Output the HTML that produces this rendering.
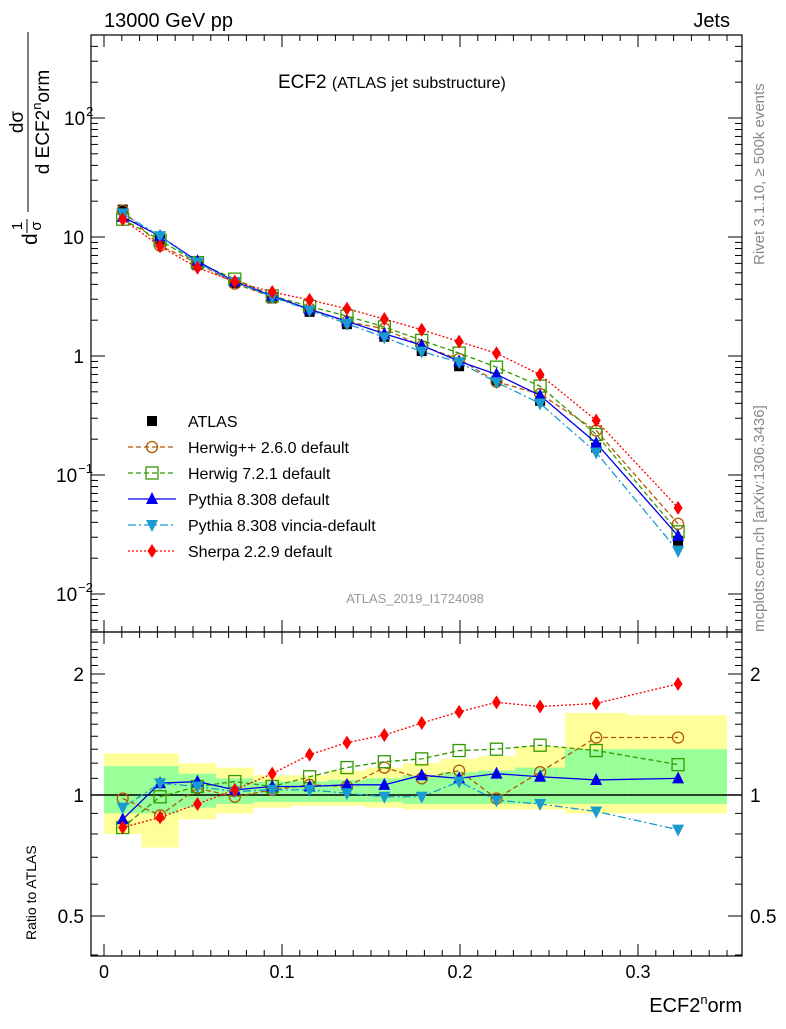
<!DOCTYPE html>
<html><head><meta charset="utf-8"><style>
body{margin:0;background:#fff}
svg text{font-family:"Liberation Sans",sans-serif}
</style></head><body>
<svg id="chart" width="786" height="1024" viewBox="0 0 786 1024" xmlns="http://www.w3.org/2000/svg">
<g id="bands"></g>
<g id="frames"></g>
<g id="series"></g>
<text x="104" y="27" font-size="20">13000 GeV pp</text>
<text x="730" y="27" font-size="20" text-anchor="end">Jets</text>
<text x="278" y="88" font-size="19">ECF2 <tspan font-size="16">(ATLAS jet substructure)</tspan></text>
<text x="415" y="603" font-size="13" fill="#999" text-anchor="middle">ATLAS_2019_I1724098</text>
<text transform="translate(764,265) rotate(-90)" font-size="15" fill="#888">Rivet 3.1.10, ≥ 500k events</text>
<text transform="translate(764,632) rotate(-90)" font-size="15" fill="#888">mcplots.cern.ch [arXiv:1306.3436]</text>
<g transform="rotate(-90)">
<text x="-245" y="37" font-size="21">d</text>
<text x="-226" y="22" font-size="15" text-anchor="middle">1</text>
<line x1="-233" x2="-219" y1="27" y2="27" stroke="#000" stroke-width="1"/>
<text x="-226" y="41" font-size="15" text-anchor="middle">σ</text>
<text x="-122" y="23" font-size="19" text-anchor="middle">dσ</text>
<line x1="-212" x2="-32" y1="28" y2="28" stroke="#000" stroke-width="1"/>
<text x="-122" y="49" font-size="19" text-anchor="middle">d ECF2<tspan font-size="13" dy="-8">n</tspan><tspan dy="8">orm</tspan></text>
</g>
<text transform="translate(36,940) rotate(-90)" font-size="14">Ratio to ATLAS</text>
<text x="742" y="1012" font-size="20" text-anchor="end">ECF2<tspan font-size="13" dy="-8">n</tspan><tspan dy="8">orm</tspan></text>
<g id="legend"></g>
</svg>
<script>
const edges=[0,0.021,0.042,0.063,0.084,0.105,0.126,0.147,0.168,0.189,0.21,0.231,0.259,0.294,0.35];
const centers=[0.0105,0.0315,0.0525,0.0735,0.0945,0.1155,0.1365,0.1575,0.1785,0.1995,0.2205,0.245,0.2765,0.3225];
const atlas=[17,9.5,5.8,4.1,3.05,2.35,1.85,1.45,1.1,0.82,0.62,0.42,0.17,0.028];
const yellowLo=[0.80,0.74,0.87,0.90,0.93,0.94,0.94,0.93,0.92,0.92,0.92,0.92,0.90,0.90];
const yellowHi=[1.27,1.27,1.20,1.17,1.12,1.12,1.15,1.17,1.20,1.23,1.25,1.32,1.60,1.58];
const greenLo=[0.90,0.90,0.93,0.95,0.96,0.96,0.96,0.96,0.95,0.95,0.95,0.95,0.95,0.95];
const greenHi=[1.18,1.18,1.13,1.10,1.08,1.08,1.09,1.10,1.12,1.14,1.15,1.17,1.30,1.30];
const herwigpp=[0.98,0.89,1.04,0.99,1.03,1.06,1.05,1.17,1.10,1.15,0.98,1.14,1.39,1.39];
const herwig7=[0.83,0.99,1.05,1.08,1.05,1.11,1.17,1.21,1.23,1.29,1.30,1.33,1.29,1.19];
const pythia=[0.87,1.07,1.08,1.03,1.05,1.05,1.06,1.06,1.12,1.10,1.13,1.11,1.09,1.10];
const vincia=[0.93,1.07,1.05,1.02,1.03,1.03,1.01,0.99,0.99,1.08,0.97,0.95,0.91,0.82];
const sherpa=[0.83,0.88,0.95,1.03,1.13,1.26,1.35,1.41,1.51,1.61,1.70,1.66,1.69,1.89];
const NS="http://www.w3.org/2000/svg";
const X=v=>104+v*1780;
const Y=v=>356-119*Math.log10(v);
const R=v=>795-121*Math.log2(v);
const L=91,Rt=742,T=35,M=632,B=956;
function mk(tag,at,parent){const e=document.createElementNS(NS,tag);for(const k in at)e.setAttribute(k,at[k]);parent.appendChild(e);return e;}
const bands=document.getElementById('bands');
for(let i=0;i<centers.length;i++){
 const ye=mk('rect',{x:X(edges[i]),width:X(edges[i+1])-X(edges[i]),y:R(yellowHi[i]),height:R(yellowLo[i])-R(yellowHi[i]),fill:'#ffff99'},bands);
 
 
 const gr=mk('rect',{x:X(edges[i]),width:X(edges[i+1])-X(edges[i]),y:R(greenHi[i]),height:R(greenLo[i])-R(greenHi[i]),fill:'#99ff99'},bands);
 
 
}
const fr=document.getElementById('frames');
mk('rect',{x:L,y:T,width:Rt-L,height:M-T,fill:'none',stroke:'#000','stroke-width':1.2},fr);
mk('rect',{x:L,y:M,width:Rt-L,height:B-M,fill:'none',stroke:'#000','stroke-width':1.2},fr);
mk('line',{x1:L,x2:Rt,y1:R(1),y2:R(1),stroke:'#000','stroke-width':1.5},fr);
for(let v=0;v<=0.355;v+=0.01){const maj=Math.abs(v*10-Math.round(v*10))<1e-6;const l=maj?12:6;
 for(const [y0,d] of [[M,-1],[T,1],[B,-1],[M,1]]) mk('line',{x1:X(v),x2:X(v),y1:y0,y2:y0+d*l,stroke:'#000'},fr);}
const xl=['0','0.1','0.2','0.3'];
xl.forEach((t,i)=>{const e=mk('text',{x:X(i*0.1),y:978,'font-size':18,'text-anchor':'middle'},fr);e.textContent=t;});
for(let d=-3;d<3;d++)for(let m=1;m<10;m++){const v=m*Math.pow(10,d);const y=Y(v);if(y<T||y>M)continue;const l=m==1?14:7;
 mk('line',{x1:L,x2:L+l,y1:y,y2:y,stroke:'#000'},fr);mk('line',{x1:Rt,x2:Rt-l,y1:y,y2:y,stroke:'#000'},fr);}
const ylab=[[1e2,'10','2'],[10,'10',''],[1,'1',''],[0.1,'10','−1'],[0.01,'10','−2']];
ylab.forEach(a=>{const e=mk('text',{x:a[2]?(a[2].length>1?56:64):84,y:Y(a[0])+7,'font-size':19,'text-anchor':a[2]?'start':'end'},fr);e.textContent=a[1];if(a[2]){const s=mk('tspan',{'font-size':13,dy:-9,dx:1},e);s.textContent=a[2];}});
for(let v=0.4;v<=2.5;v+=0.1){const y=R(v);if(y<M||y>B)continue;const maj=[0.5,1,2].some(q=>Math.abs(q-v)<1e-6);const l=maj?14:7;
 mk('line',{x1:L,x2:L+l,y1:y,y2:y,stroke:'#000'},fr);mk('line',{x1:Rt,x2:Rt-l,y1:y,y2:y,stroke:'#000'},fr);}
[[2,'2'],[1,'1'],[0.5,'0.5']].forEach(a=>{let e=mk('text',{x:84,y:R(a[0])+7,'font-size':19,'text-anchor':'end'},fr);e.textContent=a[1];
 e=mk('text',{x:750,y:R(a[0])+7,'font-size':19},fr);e.textContent=a[1];});
function marker(g,type,x,y,c){
 if(type=='sq')mk('rect',{x:x-5,y:y-5,width:10,height:10,fill:'#000'},g);
 if(type=='circ')mk('circle',{cx:x,cy:y,r:5.5,fill:'none',stroke:c,'stroke-width':1.3},g);
 if(type=='osq')mk('rect',{x:x-6,y:y-6,width:12,height:12,fill:'none',stroke:c,'stroke-width':1.3},g);
 if(type=='up')mk('polygon',{points:`${x},${y-7} ${x-6},${y+5} ${x+6},${y+5}`,fill:c},g);
 if(type=='dn')mk('polygon',{points:`${x},${y+7} ${x-6},${y-5} ${x+6},${y-5}`,fill:c},g);
 if(type=='dia')mk('polygon',{points:`${x},${y-7} ${x-4.5},${y} ${x},${y+7} ${x+4.5},${y}`,fill:c},g);
}
const S=document.getElementById('series');
const ga=mk('g',{},S);


centers.forEach((c,i)=>marker(ga,'sq',X(c),Y(atlas[i]),'#000'));
const mcs=[['herwigpp-2.6.0',herwigpp,'#b35900','circ','5,3'],['herwig-7.2.1',herwig7,'#339900','osq','5,3'],['pythia-8.308',pythia,'#0000ee','up',''],['pythia-vincia',vincia,'#1a9bd0','dn','8,3,2,3'],['sherpa-2.2.9',sherpa,'#ff0000','dia','2,2']];
mcs.forEach(m=>{
 const g=mk('g',{},S);
 
 
 const pm=centers.map((c,i)=>X(c)+','+Y(atlas[i]*m[1][i])).join(' ');
 const pr=centers.map((c,i)=>X(c)+','+R(m[1][i])).join(' ');
 mk('polyline',{points:pm,fill:'none',stroke:m[2],'stroke-width':1.3,'stroke-dasharray':m[4]},g);
 mk('polyline',{points:pr,fill:'none',stroke:m[2],'stroke-width':1.3,'stroke-dasharray':m[4]},g);
 centers.forEach((c,i)=>{marker(g,m[3],X(c),Y(atlas[i]*m[1][i]),m[2]);marker(g,m[3],X(c),R(m[1][i]),m[2]);});
});
const lg=document.getElementById('legend');
const ent=[['ATLAS','#000','sq',''],['Herwig++ 2.6.0 default','#b35900','circ','5,3'],['Herwig 7.2.1 default','#339900','osq','5,3'],['Pythia 8.308 default','#0000ee','up',''],['Pythia 8.308 vincia-default','#1a9bd0','dn','8,3,2,3'],['Sherpa 2.2.9 default','#ff0000','dia','2,2']];
ent.forEach((e,i)=>{const y=421+i*26;const g=mk('g',{},lg);
 
 
 if(i>0)mk('line',{x1:128,x2:176,y1:y,y2:y,stroke:e[1],'stroke-width':1.3,'stroke-dasharray':e[3]},g);
 marker(g,e[2],152,y,e[1]);
 const t=mk('text',{x:188,y:y+6,'font-size':16},g);t.textContent=e[0];});
</script>
</body></html>
